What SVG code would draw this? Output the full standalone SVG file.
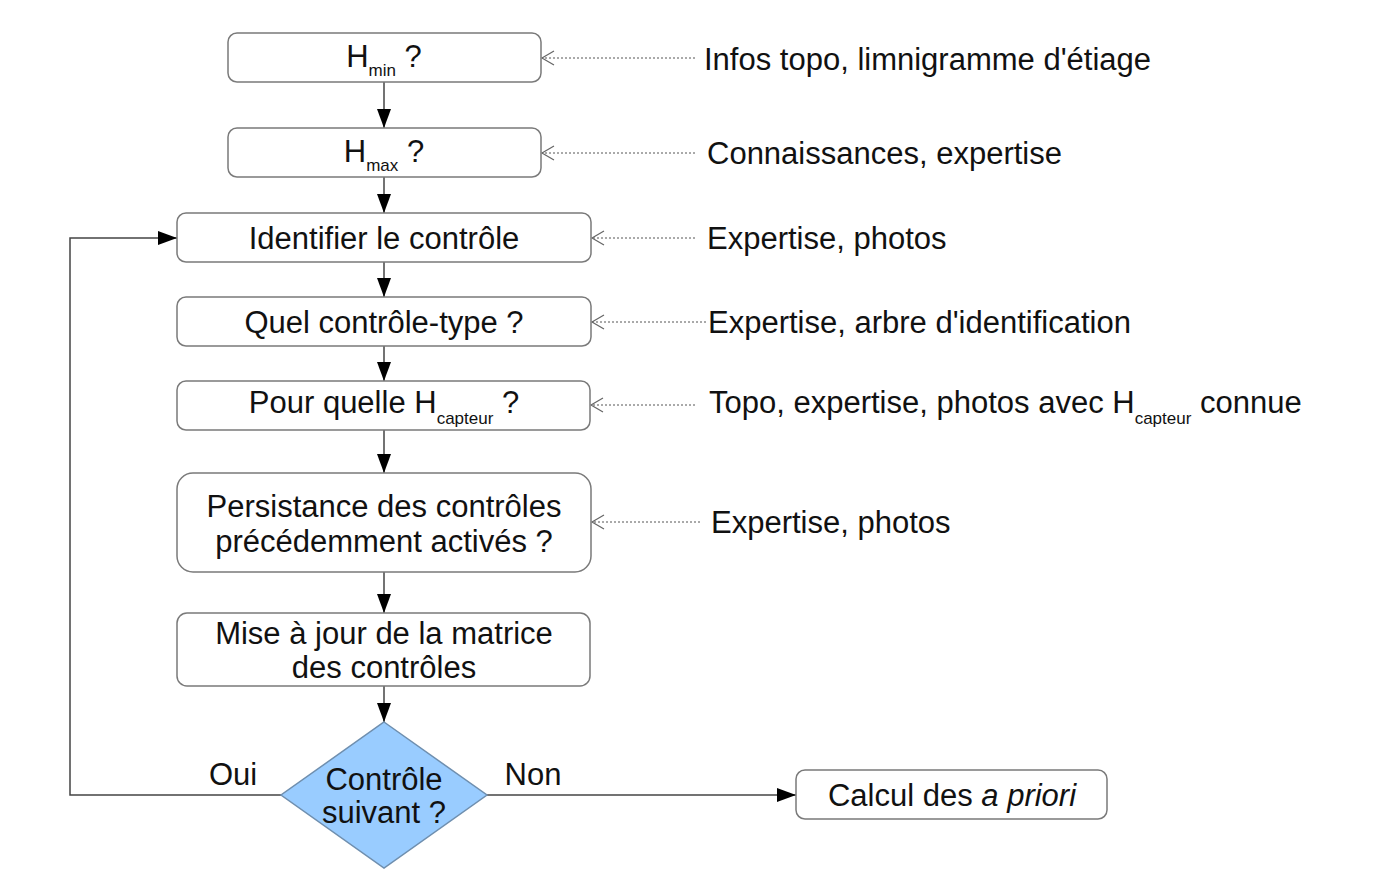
<svg xmlns="http://www.w3.org/2000/svg" width="1386" height="896" viewBox="0 0 1386 896">
<style>
text{font-family:"Liberation Sans",Arial,sans-serif;font-size:31px;fill:#111}
.c{text-anchor:middle}
.box{fill:#fff;stroke:#7a7a7a;stroke-width:1.5}
.flow{fill:none;stroke:#444;stroke-width:1.5}
.dot{fill:none;stroke:#555;stroke-width:1;stroke-dasharray:2,2}
.sub{font-size:17px}
</style>
<defs>
<marker id="ah" markerUnits="userSpaceOnUse" markerWidth="22" markerHeight="16" refX="19" refY="8" orient="auto">
<path d="M0,1 L19,8 L0,15 Z" fill="#000"/>
</marker>
<marker id="oh" markerUnits="userSpaceOnUse" markerWidth="16" markerHeight="18" refX="13" refY="9" orient="auto">
<path d="M1,2 L13,9 L1,16" fill="none" stroke="#666" stroke-width="1.2"/>
</marker>
</defs>
<g id="connectors">
<path class="flow" d="M384,82 V128" marker-end="url(#ah)"/>
<path class="flow" d="M384,177 V213" marker-end="url(#ah)"/>
<path class="flow" d="M384,262 V297" marker-end="url(#ah)"/>
<path class="flow" d="M384,346 V381" marker-end="url(#ah)"/>
<path class="flow" d="M384,430 V473" marker-end="url(#ah)"/>
<path class="flow" d="M384,572 V613" marker-end="url(#ah)"/>
<path class="flow" d="M384,686 V722" marker-end="url(#ah)"/>
<path class="flow" d="M281,795 H70 V238 H177" marker-end="url(#ah)"/>
<path class="flow" d="M487,795 H796" marker-end="url(#ah)"/>
<path class="dot" d="M695,58 H542" marker-end="url(#oh)"/>
<path class="dot" d="M695,153 H542" marker-end="url(#oh)"/>
<path class="dot" d="M695,238 H592" marker-end="url(#oh)"/>
<path class="dot" d="M706,322 H592" marker-end="url(#oh)"/>
<path class="dot" d="M695,405 H591" marker-end="url(#oh)"/>
<path class="dot" d="M700,522 H592" marker-end="url(#oh)"/>
<text x="233" y="785" class="c">Oui</text>
<text x="533" y="785" class="c">Non</text>
</g>
<g id="hmin">
<rect class="box" x="228" y="33" width="313" height="49" rx="9"/>
<text x="384" y="67" class="c">H<tspan class="sub" dy="9">min</tspan><tspan dy="-9"> ?</tspan></text>
</g>
<g id="hmax">
<rect class="box" x="228" y="128" width="313" height="49" rx="9"/>
<text x="384" y="162" class="c">H<tspan class="sub" dy="9">max</tspan><tspan dy="-9"> ?</tspan></text>
</g>
<g id="identifier">
<rect class="box" x="177" y="213" width="414" height="49" rx="9"/>
<text x="384" y="249" class="c">Identifier le contrôle</text>
</g>
<g id="quel">
<rect class="box" x="177" y="297" width="414" height="49" rx="9"/>
<text x="384" y="333" class="c">Quel contrôle-type ?</text>
</g>
<g id="pour">
<rect class="box" x="177" y="381" width="413" height="49" rx="9"/>
<text x="384" y="413" class="c">Pour quelle H<tspan class="sub" dy="11">capteur</tspan><tspan dy="-11"> ?</tspan></text>
</g>
<g id="persistance">
<rect class="box" x="177" y="473" width="414" height="99" rx="16"/>
<text x="384" y="517" class="c">Persistance des contrôles</text>
<text x="384" y="552" class="c">précédemment activés ?</text>
</g>
<g id="mise">
<rect class="box" x="177" y="613" width="413" height="73" rx="10"/>
<text x="384" y="644" class="c">Mise à jour de la matrice</text>
<text x="384" y="678" class="c">des contrôles</text>
</g>
<g id="decision">
<polygon points="384,722 487,795 384,868 281,795" fill="#99ccff" stroke="#6f8faf" stroke-width="1.5"/>
<text x="384" y="790" class="c">Contrôle</text>
<text x="384" y="823" class="c">suivant ?</text>
</g>
<g id="calcul">
<rect class="box" x="796" y="770" width="311" height="49" rx="9"/>
<text x="952" y="806" class="c">Calcul des <tspan font-style="italic">a priori</tspan></text>
</g>
<g id="sources">
<text x="704" y="70">Infos topo, limnigramme d'étiage</text>
<text x="707" y="164">Connaissances, expertise</text>
<text x="707" y="249">Expertise, photos</text>
<text x="708" y="333">Expertise, arbre d'identification</text>
<text x="709" y="413">Topo, expertise, photos avec H<tspan class="sub" dy="11">capteur</tspan><tspan dy="-11"> connue</tspan></text>
<text x="711" y="533">Expertise, photos</text>
</g>
</svg>
